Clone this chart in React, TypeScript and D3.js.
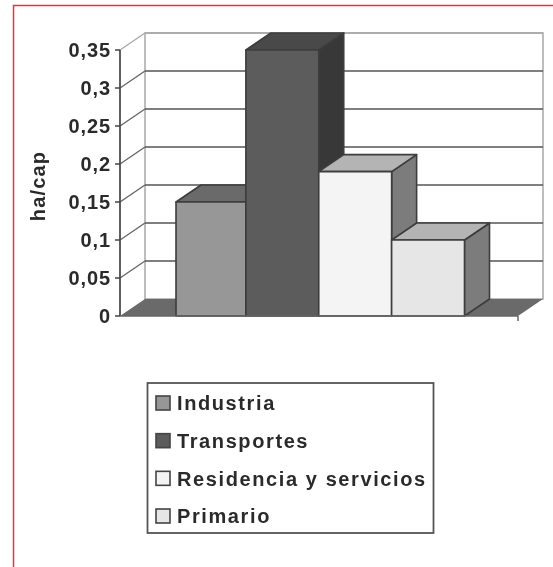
import React from "react";
import * as d3 from "d3";

const categories = ["Industria", "Transportes", "Residencia y servicios", "Primario"];
const values = [0.15, 0.35, 0.19, 0.1];
const frontColors = ["#979797", "#5c5c5c", "#f4f4f4", "#e6e6e6"];
const topColors = ["#6a6a6a", "#484848", "#b4b4b4", "#b4b4b4"];
const sideColors = ["#5a5a5a", "#383838", "#7c7c7c", "#7c7c7c"];
const ticks = [0, 0.05, 0.1, 0.15, 0.2, 0.25, 0.3, 0.35];
const tickLabels = ["0", "0,05", "0,1", "0,15", "0,2", "0,25", "0,3", "0,35"];

const W = 553, H = 567;
const y = d3.scaleLinear().domain([0, 0.35]).range([316, 50]);
const x = d3.scaleBand().domain(categories).range([173, 464.5]).padding(0);
const barsStart = 176;
const DX = 25, DY = -17;
const axisX = 120, floorRight = 518;
const stroke = "#3c3c3c";
const font = "'Liberation Sans', Arial, sans-serif";

const poly = (pts: [number, number][]) => (d3.line()(pts) as string) + "Z";

export default function App() {
  return (
    <svg width={W} height={H} style={{ position: "absolute", left: 0, top: 0 }} fontFamily={font}>
      <defs>
        <filter id="soft" x="-2%" y="-2%" width="104%" height="104%">
          <feGaussianBlur stdDeviation="0.7" />
        </filter>
      </defs>
      <rect width={W} height={H} fill="#fff" />
      <path d={`M13.5,${H}V5.5H${W}`} fill="none" stroke="#e8323c" strokeWidth={1.5} />
      <g filter="url(#soft)">
        {/* back wall */}
        <path d={poly([[axisX + DX, y(0) + DY], [floorRight + DX, y(0) + DY], [floorRight + DX, y(0.35) + DY], [axisX + DX, y(0.35) + DY]])} fill="#fff" stroke="#a8a8a8" strokeWidth={1.5} />
        {/* floor */}
        <path d={poly([[axisX, y(0)], [floorRight, y(0)], [floorRight + DX, y(0) + DY], [axisX + DX, y(0) + DY]])} fill="#6a6a6a" />
        {/* gridlines */}
        {ticks.map((t) => (
          <g key={t}>
            {t > 0 && (
              <line x1={axisX + DX} x2={floorRight + DX} y1={y(t) + DY} y2={y(t) + DY} stroke={t === 0.35 ? "#a8a8a8" : "#555"} strokeWidth={1.6} />
            )}
            {t > 0 && (
              <line x1={axisX} x2={axisX + DX} y1={y(t)} y2={y(t) + DY} stroke={t === 0.35 ? "#a8a8a8" : "#666"} strokeWidth={1.4} />
            )}
          </g>
        ))}
        {/* bars */}
        {categories.map((c, i) => {
          const x0 = Math.max(x(c) as number, barsStart);
          const x1 = (x(c) as number) + x.bandwidth();
          const yt = y(values[i]), yb = y(0);
          return (
            <g key={c} stroke={stroke} strokeWidth={1.6} strokeLinejoin="round">
              <path d={poly([[x1, yb], [x1 + DX, yb + DY], [x1 + DX, yt + DY], [x1, yt]])} fill={sideColors[i]} />
              <path d={poly([[x0, yt], [x1, yt], [x1 + DX, yt + DY], [x0 + DX, yt + DY]])} fill={topColors[i]} />
              <rect x={x0} y={yt} width={x1 - x0} height={yb - yt} fill={frontColors[i]} />
            </g>
          );
        })}
        {/* axes */}
        <line x1={axisX} x2={axisX} y1={y(0.35)} y2={y(0)} stroke="#444" strokeWidth={1.7} />
        <line x1={axisX} x2={floorRight} y1={y(0)} y2={y(0)} stroke="#666" strokeWidth={1.5} />
        <line x1={floorRight} x2={floorRight} y1={y(0)} y2={y(0) + 5} stroke="#666" strokeWidth={1.5} />
        {ticks.map((t, i) => (
          <g key={t}>
            <line x1={axisX - 5} x2={axisX} y1={y(t)} y2={y(t)} stroke="#444" strokeWidth={1.5} />
            <text x={axisX - 9} y={y(t)} dy="0.36em" textAnchor="end" fontSize={20} fontWeight="bold" fill="#2c2c2c" letterSpacing={0.9}>
              {tickLabels[i]}
            </text>
          </g>
        ))}
        <text transform="translate(45,186) rotate(-90)" textAnchor="middle" fontSize={20} fontWeight="bold" fill="#2c2c2c" letterSpacing={1.2}>ha/cap</text>
        {/* legend */}
        <rect x={147.5} y={383} width={286} height={150} fill="#fff" stroke="#555" strokeWidth={1.8} />
        {categories.map((c, i) => {
          const ly = d3.scaleLinear().domain([0, 3]).range([403, 516])(i);
          return (
            <g key={c}>
              <rect x={156} y={ly - 7} width={14} height={14} fill={frontColors[i]} stroke="#444" strokeWidth={1.6} />
              <text x={177} y={ly} dy="0.36em" fontSize={20} fontWeight="bold" fill="#2c2c2c" letterSpacing={1.6}>{c}</text>
            </g>
          );
        })}
      </g>
    </svg>
  );
}
